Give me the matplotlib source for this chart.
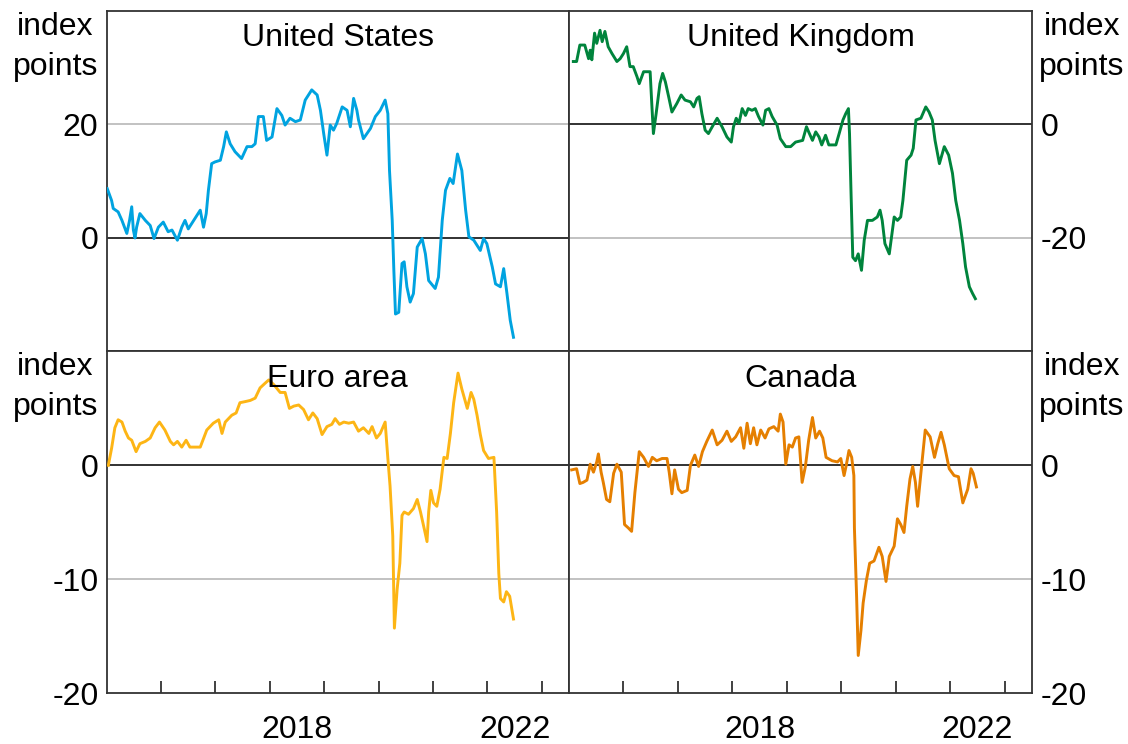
import matplotlib

matplotlib.use("Agg")
import matplotlib.pyplot as plt
from matplotlib.ticker import FixedLocator, NullFormatter, FixedFormatter

plt.rcParams["font.family"] = ["Liberation Sans", "DejaVu Sans"]

# decimal-year dates and index-point values
us_dates = [
    2015.01, 2015.09, 2015.12, 2015.21, 2015.28, 2015.37, 2015.42, 2015.46, 2015.49, 2015.52,
    2015.55, 2015.61, 2015.71, 2015.80, 2015.87, 2015.95, 2016.04, 2016.13, 2016.20, 2016.30,
    2016.38, 2016.44, 2016.50, 2016.60, 2016.72, 2016.78, 2016.83, 2016.87, 2016.93, 2016.99,
    2017.09, 2017.15, 2017.20, 2017.27, 2017.36, 2017.48, 2017.58, 2017.67, 2017.73, 2017.79,
    2017.88, 2017.94, 2018.04, 2018.13, 2018.22, 2018.28, 2018.37, 2018.47, 2018.56, 2018.65,
    2018.77, 2018.87, 2018.93, 2018.99, 2019.05, 2019.11, 2019.17, 2019.23, 2019.33, 2019.42,
    2019.48, 2019.54, 2019.60, 2019.63, 2019.72, 2019.85, 2019.94, 2020.03, 2020.12, 2020.17,
    2020.20, 2020.25, 2020.28, 2020.31, 2020.37, 2020.43, 2020.47, 2020.52, 2020.58, 2020.64,
    2020.71, 2020.80, 2020.86, 2020.92, 2021.04, 2021.10, 2021.17, 2021.23, 2021.31, 2021.37,
    2021.45, 2021.53, 2021.60, 2021.66, 2021.75, 2021.87, 2021.93, 2021.99, 2022.09, 2022.15,
    2022.24, 2022.30, 2022.36, 2022.42, 2022.48,
]
us_values = [
    8.7, 6.6, 5.2, 4.6, 3.1, 0.8, 3.1, 5.5, 1.4, 0.0,
    1.9, 4.3, 3.1, 2.2, -0.1, 1.9, 2.8, 1.1, 1.4, -0.4,
    1.9, 3.1, 1.6, 3.1, 4.9, 1.9, 4.3, 8.4, 13.1, 13.4,
    13.7, 16.1, 18.7, 16.6, 15.2, 14.0, 16.1, 16.1, 16.6, 21.4,
    21.4, 17.2, 17.8, 22.8, 21.6, 19.9, 21.1, 20.5, 20.8, 24.3,
    26.1, 25.2, 22.5, 18.4, 14.6, 19.9, 19.0, 20.2, 23.1, 22.5,
    19.6, 24.6, 22.5, 20.8, 17.5, 19.3, 21.4, 22.5, 24.3, 21.9,
    11.9, 3.1, -5.7, -13.4, -13.1, -4.5, -4.2, -8.6, -11.3, -9.8,
    -1.6, -0.1, -2.8, -7.5, -8.9, -6.9, 3.1, 8.4, 10.5, 9.6,
    14.8, 11.9, 4.9, 0.2, -0.4, -2.2, -0.1, -1.0, -5.1, -8.1,
    -8.6, -5.4, -9.8, -14.5, -17.5,
]

uk_dates = [
    2015.08, 2015.14, 2015.20, 2015.29, 2015.36, 2015.39, 2015.42, 2015.47, 2015.51, 2015.57,
    2015.61, 2015.66, 2015.72, 2015.79, 2015.88, 2015.94, 2016.00, 2016.06, 2016.12, 2016.18,
    2016.25, 2016.29, 2016.37, 2016.49, 2016.52, 2016.55, 2016.60, 2016.67, 2016.72, 2016.77,
    2016.83, 2016.89, 2016.98, 2017.06, 2017.13, 2017.23, 2017.29, 2017.35, 2017.39, 2017.44,
    2017.50, 2017.56, 2017.63, 2017.72, 2017.81, 2017.90, 2017.98, 2018.02, 2018.07, 2018.12,
    2018.18, 2018.24, 2018.29, 2018.36, 2018.42, 2018.48, 2018.56, 2018.61, 2018.67, 2018.73,
    2018.82, 2018.88, 2018.98, 2019.07, 2019.16, 2019.29, 2019.36, 2019.40, 2019.47, 2019.53,
    2019.59, 2019.64, 2019.71, 2019.77, 2019.90, 2019.96, 2020.03, 2020.08, 2020.13, 2020.15,
    2020.18, 2020.21, 2020.26, 2020.31, 2020.37, 2020.42, 2020.48, 2020.57, 2020.66, 2020.71,
    2020.75, 2020.80, 2020.88, 2020.93, 2020.97, 2021.03, 2021.09, 2021.13, 2021.20, 2021.28,
    2021.32, 2021.37, 2021.46, 2021.55, 2021.61, 2021.67, 2021.72, 2021.80, 2021.89, 2021.97,
    2022.04, 2022.10, 2022.17, 2022.23, 2022.28, 2022.35, 2022.41, 2022.46,
]
uk_values = [
    11.1, 11.1, 14.0, 14.0, 11.6, 13.1, 11.4, 16.1, 14.3, 16.6,
    14.6, 16.4, 13.7, 12.5, 11.1, 11.6, 12.5, 13.7, 10.2, 10.2,
    8.4, 7.2, 9.3, 9.3, 3.7, -1.6, 1.9, 7.2, 9.0, 7.5,
    4.9, 2.2, 3.7, 5.2, 4.3, 4.0, 3.1, 4.6, 4.9, 1.9,
    -1.0, -1.6, -0.4, 1.1, -0.4, -2.2, -3.1, -0.4, 1.1, 0.2,
    2.8, 1.6, 2.8, 2.5, 2.8, 1.4, -0.1, 2.5, 2.8, 1.4,
    -0.1, -2.5, -3.9, -3.9, -3.1, -2.8, -0.4, -1.3, -2.8, -1.3,
    -2.2, -3.6, -1.9, -3.6, -3.6, -1.6, 0.8, 1.9, 2.8, -1.6,
    -12.8, -23.4, -24.0, -22.8, -25.7, -20.4, -16.9, -16.9, -16.3, -15.1,
    -16.9, -21.0, -22.8, -19.2, -16.3, -16.9, -16.3, -13.4, -6.3, -5.4,
    -4.2, 0.8, 1.1, 3.1, 2.2, 0.8, -2.8, -6.9, -3.9, -5.4,
    -8.6, -13.4, -16.9, -21.0, -25.1, -28.6, -29.8, -30.7,
]

ea_dates = [
    2015.03, 2015.09, 2015.15, 2015.21, 2015.28, 2015.34, 2015.40, 2015.46, 2015.54, 2015.61,
    2015.71, 2015.80, 2015.89, 2015.97, 2016.07, 2016.17, 2016.23, 2016.30, 2016.38, 2016.46,
    2016.53, 2016.63, 2016.72, 2016.84, 2016.96, 2017.06, 2017.12, 2017.18, 2017.30, 2017.38,
    2017.45, 2017.55, 2017.64, 2017.73, 2017.82, 2017.91, 2017.98, 2018.07, 2018.19, 2018.28,
    2018.36, 2018.44, 2018.53, 2018.62, 2018.71, 2018.79, 2018.87, 2018.96, 2019.05, 2019.14,
    2019.20, 2019.28, 2019.36, 2019.45, 2019.54, 2019.63, 2019.72, 2019.82, 2019.88, 2019.96,
    2020.03, 2020.12, 2020.17, 2020.21, 2020.26, 2020.29, 2020.34, 2020.39, 2020.43, 2020.47,
    2020.55, 2020.64, 2020.71, 2020.77, 2020.84, 2020.89, 2020.92, 2020.96, 2021.01, 2021.07,
    2021.13, 2021.20, 2021.26, 2021.32, 2021.38, 2021.46, 2021.53, 2021.63, 2021.70, 2021.75,
    2021.81, 2021.87, 2021.93, 2022.02, 2022.12, 2022.17, 2022.21, 2022.24, 2022.30, 2022.35,
    2022.41, 2022.48,
]
ea_values = [
    0.0, 1.5, 3.3, 4.0, 3.8, 3.0, 2.4, 2.2, 1.2, 1.9,
    2.1, 2.4, 3.3, 3.8, 3.1, 2.1, 1.8, 2.1, 1.6, 2.2,
    1.6, 1.6, 1.6, 3.1, 3.7, 4.0, 2.8, 3.8, 4.4, 4.6,
    5.5, 5.6, 5.7, 5.9, 6.8, 7.2, 7.5, 7.1, 6.4, 6.4,
    5.0, 5.2, 5.3, 4.9, 4.0, 4.6, 4.1, 2.7, 3.4, 3.6,
    4.1, 3.6, 3.8, 3.7, 3.8, 3.0, 3.3, 2.8, 3.4, 2.4,
    2.8, 3.8, 0.6, -1.8, -6.2, -14.3, -10.9, -8.6, -4.4, -4.1,
    -4.3, -3.8, -3.0, -4.1, -5.6, -6.7, -4.1, -2.2, -3.3, -3.6,
    -2.1, 0.7, 0.6, 2.8, 5.5, 8.1, 6.7, 5.0, 6.4, 5.8,
    4.4, 2.7, 1.3, 0.6, 0.7, -4.1, -9.5, -11.7, -12.0, -11.1,
    -11.5, -13.5,
]

ca_dates = [
    2015.05, 2015.14, 2015.20, 2015.26, 2015.33, 2015.39, 2015.45, 2015.51, 2015.54, 2015.59,
    2015.63, 2015.69, 2015.75, 2015.82, 2015.88, 2015.96, 2016.02, 2016.09, 2016.15, 2016.21,
    2016.29, 2016.37, 2016.46, 2016.53, 2016.61, 2016.71, 2016.80, 2016.84, 2016.89, 2016.94,
    2017.01, 2017.07, 2017.17, 2017.23, 2017.31, 2017.38, 2017.45, 2017.53, 2017.63, 2017.72,
    2017.81, 2017.90, 2017.98, 2018.06, 2018.15, 2018.21, 2018.27, 2018.33, 2018.39, 2018.45,
    2018.52, 2018.60, 2018.67, 2018.76, 2018.84, 2018.88, 2018.93, 2018.98, 2019.04, 2019.10,
    2019.16, 2019.22, 2019.28, 2019.34, 2019.40, 2019.47, 2019.53, 2019.60, 2019.66, 2019.72,
    2019.83, 2019.93, 2019.99, 2020.05, 2020.09, 2020.14, 2020.19, 2020.23, 2020.24, 2020.28,
    2020.31, 2020.36, 2020.40, 2020.46, 2020.52, 2020.60, 2020.69, 2020.75, 2020.82, 2020.88,
    2020.97, 2021.03, 2021.09, 2021.15, 2021.20, 2021.26, 2021.31, 2021.36, 2021.40, 2021.46,
    2021.54, 2021.63, 2021.71, 2021.77, 2021.83, 2021.89, 2021.98, 2022.07, 2022.15, 2022.23,
    2022.32, 2022.38, 2022.42, 2022.48,
]
ca_values = [
    -0.4, -0.3, -1.6, -1.5, -1.3, 0.1, -0.6, 0.3, 1.0, -0.6,
    -1.5, -3.0, -3.2, -0.7, 0.1, -0.6, -5.2, -5.5, -5.8, -2.4,
    1.2, 0.7, -0.1, 0.7, 0.4, 0.6, 0.6, -0.6, -2.5, -0.4,
    -2.1, -2.4, -2.2, 0.0, 0.9, -0.1, 1.2, 2.1, 3.1, 1.8,
    2.2, 3.0, 2.1, 2.5, 3.3, 1.5, 3.7, 1.9, 3.3, 1.8,
    3.1, 2.4, 3.2, 3.4, 3.0, 4.5, 3.8, 0.1, 1.8, 1.6,
    2.4, 2.5, -1.5, -0.1, 2.2, 4.2, 2.4, 3.0, 2.4, 0.7,
    0.4, 0.3, 0.6, -0.9, 0.0, 1.3, 0.7, -0.9, -5.5, -11.5,
    -16.7, -14.5, -12.1, -10.1, -8.6, -8.4, -7.2, -8.0, -10.2, -8.0,
    -7.1, -4.7, -5.2, -5.9, -3.6, -1.2, -0.1, -1.5, -3.6, -0.7,
    3.1, 2.5, 0.7, 1.9, 2.9, 1.8, -0.3, -0.9, -1.0, -3.3,
    -2.1, -0.3, -0.7, -1.9,
]

panels = [
    ("United States", us_dates, us_values, "#00a3e0", (-20, 40), [-20, 0, 20, 40], [0, 20]),
    ("United Kingdom", uk_dates, uk_values, "#00843c", (-40, 20), [-40, -20, 0, 20], [-20, 0]),
    ("Euro area", ea_dates, ea_values, "#fdb515", (-20, 10), [-20, -10, 0, 10], [-20, -10, 0]),
    ("Canada", ca_dates, ca_values, "#e57f00", (-20, 10), [-20, -10, 0, 10], [-20, -10, 0]),
]
year_ticks = list(range(2016, 2024))
year_labels = ["2018", "2022"]

FS = 23
fig = plt.figure(figsize=(11.28, 7.44), dpi=100)
boxes = [
    (0.0946, 0.5276, 0.4098, 0.4576),
    (0.5044, 0.5276, 0.4105, 0.4576),
    (0.0946, 0.0685, 0.4098, 0.4591),
    (0.5044, 0.0685, 0.4105, 0.4591),
]

for i, (box, (name, dates, values, color, ylim, grid, shown)) in enumerate(zip(boxes, panels)):
    ax = fig.add_axes(box)
    right = i % 2 == 1
    bottom = i >= 2
    for g in grid:
        if g == 0:
            ax.axhline(0, color="#222222", lw=1.3, zorder=1)
        elif ylim[0] < g < ylim[1]:
            ax.axhline(g, color="#bdbdbd", lw=1.3, zorder=1)
    ax.plot(dates, values, color=color, lw=2.1, zorder=3)
    ax.set_xlim(2015, 2023.5)
    ax.set_ylim(*ylim)
    for s in ax.spines.values():
        s.set_color("#333333")
        s.set_linewidth(1.3)

    ax.yaxis.set_major_locator(FixedLocator(shown))
    ax.set_yticklabels([str(v) for v in shown])
    ax.tick_params(axis="y", length=0, labelsize=FS, pad=6,
                   left=False, right=False, labelleft=not right, labelright=right)

    ax.xaxis.set_major_locator(FixedLocator(year_ticks))
    ax.xaxis.set_major_formatter(NullFormatter())
    if bottom:
        ax.xaxis.set_minor_locator(FixedLocator([2018.5, 2022.5]))
        ax.xaxis.set_minor_formatter(FixedFormatter(year_labels))
        ax.tick_params(axis="x", which="major", direction="in", length=9, width=1.3,
                       color="#333333", top=False)
        ax.tick_params(axis="x", which="minor", length=0, labelsize=FS, pad=16)
    else:
        ax.tick_params(axis="x", which="both", length=0, labelbottom=False)

    ax.text(0.5, 0.92, name, transform=ax.transAxes, ha="center", va="center",
            fontsize=FS, color="black", zorder=4)

    if right:
        ax.text(1.016, 0.998, "index\npoints", transform=ax.transAxes, ha="left", va="top",
                multialignment="center", fontsize=FS, linespacing=1.45)
    else:
        ax.text(-0.019, 0.998, "index\npoints", transform=ax.transAxes, ha="right", va="top",
                multialignment="center", fontsize=FS, linespacing=1.45)

fig.savefig("out.png", dpi=100)
